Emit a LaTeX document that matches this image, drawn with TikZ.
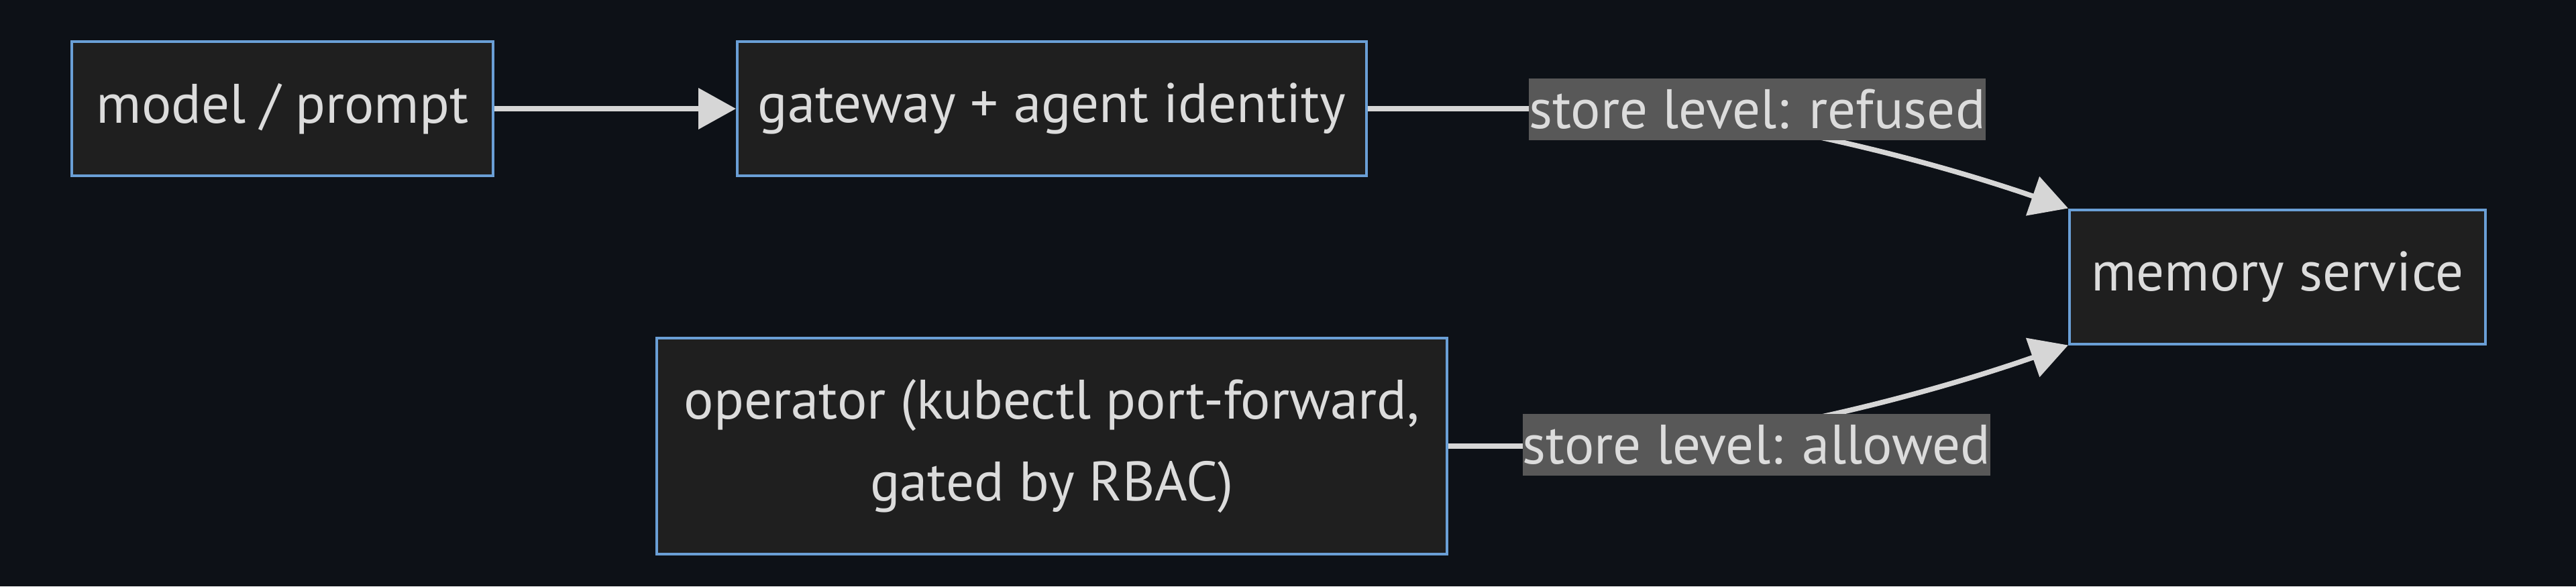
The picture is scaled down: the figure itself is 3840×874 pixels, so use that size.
\documentclass[tikz,border=0pt]{standalone}
\usepackage{fontspec}
\setmainfont{PT Sans}
\usetikzlibrary{arrows.meta, positioning, calc}

\definecolor{bgdark}{HTML}{0D1117}
\definecolor{boxfill}{HTML}{1F1F1F}
\definecolor{boxline}{HTML}{6A9FD6}
\definecolor{txtgray}{HTML}{DCDCDC}
\definecolor{lblfill}{HTML}{585858}
\definecolor{edgegray}{HTML}{D6D6D6}

\tikzset{
  box/.style={draw=boxline, line width=2pt, fill=boxfill, text=txtgray,
    minimum height=100pt, align=center, inner sep=0pt,
    font=\fontsize{41.5}{61}\selectfont},
  lbl/.style={fill=lblfill, text=txtgray, inner sep=0pt, minimum height=46pt,
    font=\fontsize{41.5}{46}\selectfont},
  edge/.style={draw=edgegray, line width=3.8pt,
    -{Triangle[length=28pt, width=30pt]}}
}

\begin{document}
\begin{tikzpicture}[x=0.5pt, y=-0.5pt]
  \fill[bgdark] (0,0) rectangle (3840,874);
  \useasboundingbox (0,0) rectangle (3840,874);

  % nodes
  \node[box, minimum width=314pt] (model) at (421,162) {model / prompt};
  \node[box, minimum width=469pt, right=180pt of model] (gw) {gateway + agent identity};
  \node[box, minimum width=589pt, minimum height=161pt, below=119pt of gw] (op)
    {operator (kubectl port-forward,\\gated by RBAC)};
  \node[box, minimum width=310pt] (mem) at (3395,412.5) {memory service};

  % edges
  \draw[edge] (model) -- (gw);
  \draw[edge] (gw.east) -- ++(347,0) .. controls +(180,0) and +(-238,-82) .. (mem.north west);
  \draw[edge] (op.east) -- ++(227,0) .. controls +(180,0) and +(-238,83) .. (mem.south west);

  % edge labels
  \node[lbl, minimum width=339.5pt] (refused) at (2619.5,163) {store level: refused};
  \node[lbl, minimum width=344.5pt] (allowed) at (2618.5,663) {store level: allowed};
\end{tikzpicture}
\end{document}
